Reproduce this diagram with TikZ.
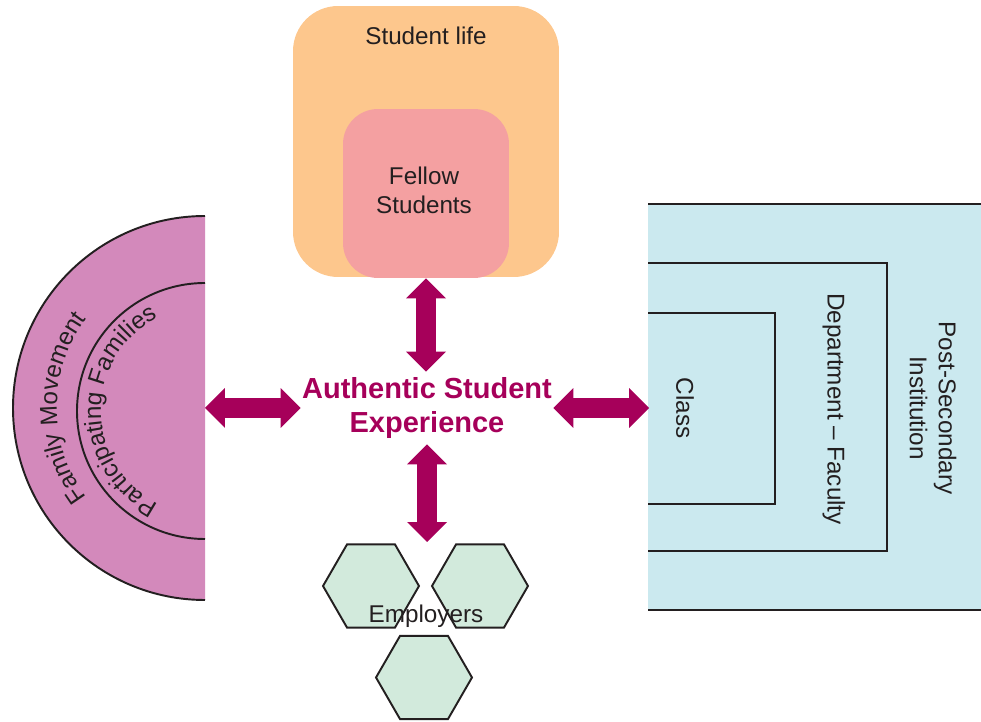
\documentclass[tikz,border=0pt]{standalone}
\usepackage{fontspec}
\setmainfont{Liberation Sans}
\usepackage{xcolor}
\usetikzlibrary{arrows.meta,shapes.geometric,decorations.text}

\definecolor{lifecol}{HTML}{FDC78D}
\definecolor{fellowcol}{HTML}{F4A0A1}
\definecolor{famcol}{HTML}{D389BB}
\definecolor{instcol}{HTML}{CBE9EF}
\definecolor{empcol}{HTML}{D2EADC}
\definecolor{asecol}{HTML}{A6005A}
\definecolor{inkcol}{HTML}{231F20}

\begin{document}
\begin{tikzpicture}[x=0.02cm, y=0.02cm,
  txt/.style={text=inkcol, font=\fontsize{13.8}{16.5}\selectfont, align=center},
  edge/.style={draw=inkcol, line width=1.1pt},
  hexa/.style={regular polygon, regular polygon sides=6, minimum size=1.92cm, inner sep=0pt, draw=inkcol, line width=1.1pt, fill=empcol},
  dbl/.style={draw=asecol, line width=0.4cm, {Triangle[width=0.8cm,length=0.4cm,line width=0pt]}-{Triangle[width=0.8cm,length=0.4cm,line width=0pt]}}]

\useasboundingbox (0,0) rectangle (981,-722);

% student life
\node[fill=lifecol, rounded corners=0.9cm, minimum width=5.32cm, minimum height=5.42cm] (life) at (426,-141.5) {};
\node[txt] (lifetxt) at (426,-36) {Student life};
\node[fill=fellowcol, rounded corners=0.7cm, minimum width=3.32cm, minimum height=3.38cm] (fellow) at (426,-193.5) {};
\node[txt] (fellowtxt) at (424,-190) {Fellow\\Students};

% families
\fill[famcol] (205,-216) arc (90:270:192) -- cycle;
\draw[edge] (205,-216) arc (90:270:192);
\draw[edge] (205,-283) arc (90:270:128);
\path[decorate, decoration={text along path, text align=center,
  text={|\fontsize{13.8}{16.5}\selectfont\color{inkcol}|Family Movement}}]
  [shift={(205,-408)}] (225:148) arc (225:135:148);
\path[decorate, decoration={text along path, text align=center,
  text={|\fontsize{13.8}{16.5}\selectfont\color{inkcol}|Participating Families}}]
  [shift={(205,-411)}] (250:104) arc (250:110:104);

% institution
\fill[instcol] (648,-204) rectangle (981,-610);
\draw[edge] (648,-204) -- (981,-204);
\draw[edge] (648,-610) -- (981,-610);
\draw[edge] (648,-263) -| (887,-551) -- (648,-551);
\draw[edge] (648,-313) -| (775,-504) -- (648,-504);
\node[txt, rotate=-90] (cls) at (685,-408) {Class};
\node[txt, rotate=-90] (dep) at (834,-409) {Department – Faculty};
\node[txt, rotate=-90] (psi) at (933,-408) {Post-Secondary\\Institution};

% employers
\node[hexa] (hexa1) at (371,-586) {};
\node[hexa] (hexa2) at (480,-586) {};
\node[hexa] (hexa3) at (424,-677.5) {};
\node[txt] (emptxt) at (426,-616) {Employers};

% centre
\node[text=asecol, font=\bfseries\fontsize{16.5}{19.8}\selectfont, align=center, inner sep=0pt,
  minimum width=5.04cm, minimum height=1.44cm] (ase) at (427,-408) {Authentic Student\\Experience};

\coordinate (fam) at (205,-408);
\coordinate (inst) at (649,-408);
\coordinate (emp) at (427,-542);

\draw[dbl] (fellow.south) -- (fellow.south |- ase.north);
\draw[dbl] (ase.west) -- (fam);
\draw[dbl] (ase.east) -- (inst);
\draw[dbl] (ase.south) -- (emp);

\end{tikzpicture}
\end{document}
